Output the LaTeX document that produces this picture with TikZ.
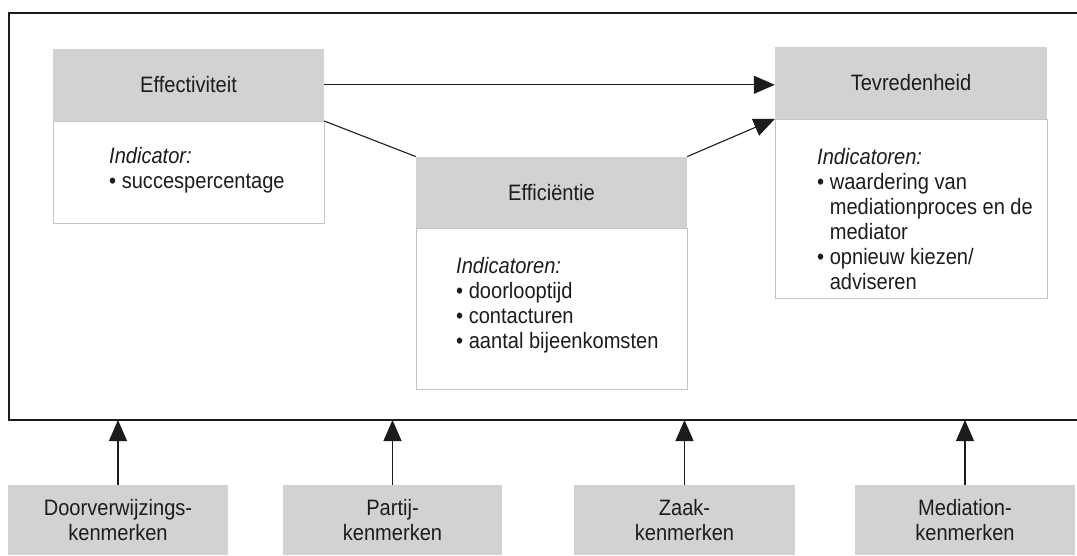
\documentclass[tikz,border=0pt]{standalone}
\usepackage{fontspec}
\setmainfont{Liberation Sans}[FakeStretch=0.9]
\usetikzlibrary{arrows.meta}
\definecolor{hdr}{HTML}{D1D2D4}
\definecolor{bdr}{HTML}{C4C5C7}
\definecolor{ink}{HTML}{1E1B1C}
\begin{document}
\begin{tikzpicture}[x=1pt,y=-1pt,
  font=\fontsize{22.3}{25}\selectfont, text=ink,
  hdrbox/.style={fill=hdr, minimum width=#1, minimum height=72pt, inner sep=0pt, align=center},
  bodybox/.style={draw=bdr, line width=0.9pt, inner sep=0pt, anchor=north},
  txt/.style={anchor=north west, inner sep=0pt, align=left},
  conn/.style={draw=ink, line width=1.1pt},
  arr/.style={conn, -{Triangle[length=21pt,width=18pt]}},
  framestyle/.style={draw=ink, line width=1.3pt}]
\useasboundingbox (0,0) rectangle (1077,556);
% frame
\draw[framestyle] (1077,13) -- (9,13) -- (9,420) -- (1077,420);
\coordinate (fb) at (0,420);
% Effectiviteit
\node[bodybox, minimum width=271pt, minimum height=102pt] (effb) at (188.5,121) {};
\node[hdrbox=271pt, anchor=south] (effh) at (effb.north) {Effectiviteit};
\node[txt] (efft) at (109,147) {\textit{Indicator:}\\• succespercentage};
% Efficientie
\node[bodybox, minimum width=271pt, minimum height=161pt] (ficb) at (551.5,228) {};
\node[hdrbox=271pt, minimum height=71pt, anchor=south] (fich) at (ficb.north) {Efficiëntie};
\node[txt] (fict) at (456,257) {\textit{Indicatoren:}\\• doorlooptijd\\• contacturen\\• aantal bijeenkomsten};
% Tevredenheid
\node[bodybox, minimum width=272pt, minimum height=179pt] (tevb) at (911,119) {};
\node[hdrbox=272pt, anchor=south] (tevh) at (tevb.north) {Tevredenheid};
\node[txt] (tevt) at (817,148) {\textit{Indicatoren:}\\• waardering van\\\phantom{• }mediationproces en de\\\phantom{• }mediator\\• opnieuw kiezen/\\\phantom{• }adviseren};
% connectors
\draw[arr] (effh.east) -- (effh.east -| tevh.west);
\draw[conn] (effh.south east) -- (fich.north west);
\draw[arr] (fich.north east) -- (tevh.south west);
% bottom boxes
\node[hdrbox=220pt, minimum height=70pt] (dv) at (118,520) {Doorverwijzings-\\kenmerken};
\node[hdrbox=219pt, minimum height=70pt] (pk) at (392.5,520) {Partij-\\kenmerken};
\node[hdrbox=221pt, minimum height=70pt] (zk) at (684.5,520) {Zaak-\\kenmerken};
\node[hdrbox=220pt, minimum height=70pt] (mk) at (965,520) {Mediation-\\kenmerken};
\draw[arr] (dv.north) -- (dv.north |- fb);
\draw[arr] (pk.north) -- (pk.north |- fb);
\draw[arr] (zk.north) -- (zk.north |- fb);
\draw[arr] (mk.north) -- (mk.north |- fb);
\end{tikzpicture}
\end{document}
